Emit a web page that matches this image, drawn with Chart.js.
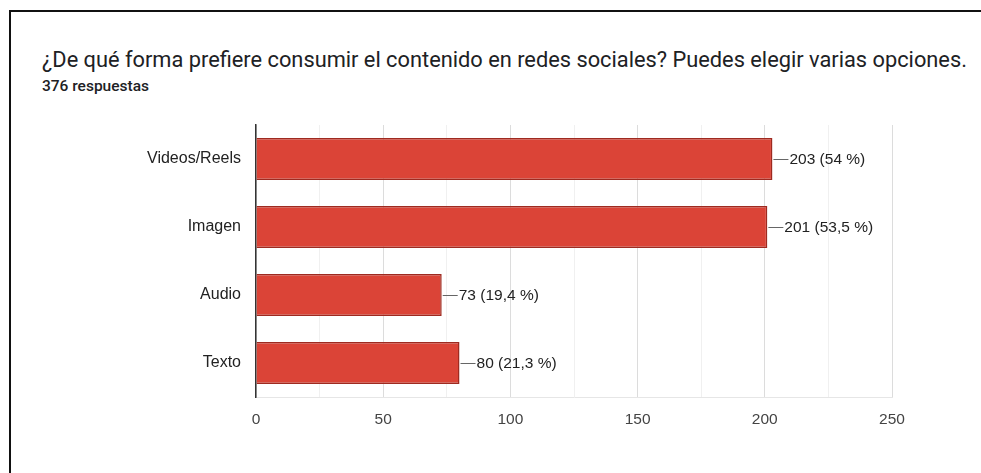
<!DOCTYPE html>
<html>
<head>
<meta charset="utf-8">
<script src="https://cdn.jsdelivr.net/npm/chart.js@4.4.1/dist/chart.umd.min.js"></script>
<style>
  html, body { margin: 0; padding: 0; background: #fff; overflow: hidden; }
  #wrap { position: relative; width: 981px; height: 473px; overflow: hidden; }
  #frame { position: absolute; left: 9px; top: 10px; width: 1100px; height: 600px;
           border-left: 2px solid #111; border-top: 2px solid #111; box-sizing: border-box; }
  #title { position: absolute; left: 42px; top: 47px; font: 21.8px Roboto, Arial, sans-serif;
           color: #202124; white-space: nowrap; }
  #subtitle { position: absolute; left: 42px; top: 77px; font: 500 15.5px Roboto, Arial, sans-serif;
              color: #202124; white-space: nowrap; }
  #c { position: absolute; left: 0; top: 0; }
</style>
</head>
<body>
<div id="wrap">
  <div id="frame"></div>
  <div id="title">¿De qué forma prefiere consumir el contenido en redes sociales? Puedes elegir varias opciones.</div>
  <div id="subtitle">376 respuestas</div>
  <canvas id="c" width="981" height="473"></canvas>
</div>
<script>
const categories = ["Videos/Reels", "Imagen", "Audio", "Texto"];
const counts = [203, 201, 73, 80];
const percentLabels = ["54 %", "53,5 %", "19,4 %", "21,3 %"];
const xTickValues = [0, 50, 100, 150, 200, 250];

const labelPlugin = {
  id: 'barLabels',
  afterDatasetsDraw(chart) {
    const ctx = chart.ctx;
    const meta = chart.getDatasetMeta(0);
    ctx.save();
    ctx.font = '15.5px "Liberation Sans", Arial, sans-serif';
    ctx.fillStyle = '#222';
    ctx.textBaseline = 'middle';
    ctx.textAlign = 'left';
    meta.data.forEach((bar, i) => {
      const x = bar.x, y = bar.y;
      ctx.strokeStyle = '#666';
      ctx.lineWidth = 1;
      ctx.beginPath();
      ctx.moveTo(x + 1, Math.round(y) + 0.5);
      ctx.lineTo(x + 16, Math.round(y) + 0.5);
      ctx.stroke();
      ctx.fillText(counts[i] + ' (' + percentLabels[i] + ')', x + 17, y + 1);
    });
    ctx.restore();
  }
};

new Chart(document.getElementById('c'), {
  type: 'bar',
  data: {
    labels: categories,
    datasets: [{
      data: counts,
      backgroundColor: '#db4437',
      borderColor: '#9e2a20',
      borderWidth: 1.5,
      borderSkipped: 'start',
      barPercentage: 0.62,
      categoryPercentage: 1.0
    }]
  },
  options: {
    indexAxis: 'y',
    responsive: false,
    animation: false,
    layout: { padding: { top: 125, right: 89, left: 0, bottom: 0 } },
    plugins: { legend: { display: false }, tooltip: { enabled: false } },
    scales: {
      x: {
        min: 0, max: 250,
        afterFit: s => { s.height = 76; },
        afterBuildTicks: s => {
          const t = [];
          for (let v = 0; v <= 250; v += 25) t.push({ value: v });
          s.ticks = t;
        },
        ticks: {
          autoSkip: false,
          maxRotation: 0,
          padding: 13,
          color: '#444',
          font: { family: '"Liberation Sans", Arial, sans-serif', size: 15.5 },
          callback: v => xTickValues.includes(v) ? String(v) : ''
        },
        grid: {
          drawTicks: false,
          color: c => (c.tick && c.tick.value % 50 === 0) ? '#dcdcdc' : '#f0f0f0',
          lineWidth: 1
        },
        border: { display: true, color: '#e6e6e6' }
      },
      y: {
        afterFit: s => { s.width = 256; },
        ticks: {
          padding: 15,
          color: '#222',
          font: { family: '"Liberation Sans", Arial, sans-serif', size: 16 }
        },
        grid: { display: false, drawTicks: false },
        border: { display: true, color: '#333', width: 1.5 }
      }
    }
  },
  plugins: [labelPlugin]
});
</script>
</body>
</html>
